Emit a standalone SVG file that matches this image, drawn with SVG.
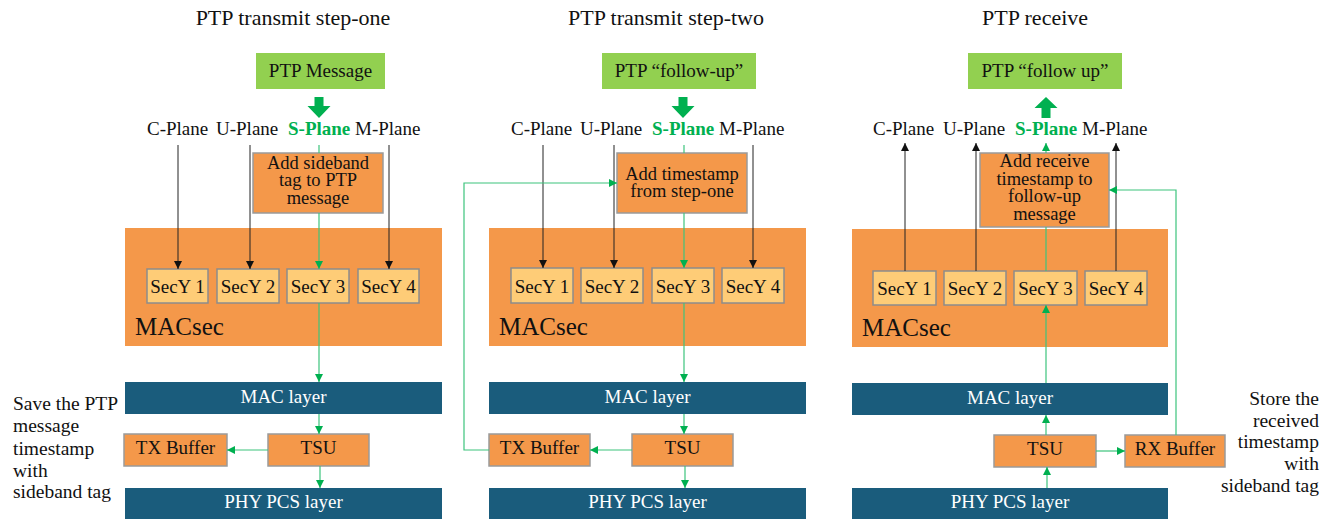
<svg xmlns="http://www.w3.org/2000/svg" width="1335" height="519" viewBox="0 0 1335 519">
  <style>
    text { font-family: "Liberation Serif", "Times New Roman", serif; fill: #111; }
    .title { font-size: 22px; text-anchor: middle; }
    .lbl { font-size: 19px; }
    .box { font-size: 18.5px; }
    .mid { text-anchor: middle; }
    .splane { fill: #00B050; font-weight: bold; }
    .band { fill: #1A5C7C; }
    .bandtxt { fill: #ffffff; font-size: 19px; text-anchor: middle; }
    .macsec { fill: #F4984A; }
    .msg { fill: #92D050; }
    .proc { fill: #F4984A; stroke: #9a9a9a; stroke-width: 1.5; }
    .secy { fill: #FECC77; stroke: #8c8c8c; stroke-width: 1.5; }
    .big { font-size: 25px; }
    .note { font-size: 19.5px; }
    .k { stroke: #222; stroke-width: 1; fill: none; }
    .g { stroke: #3CC47C; stroke-width: 1.2; fill: none; }
    .ka { marker-end: url(#ah-k); }
    .ga { marker-end: url(#ah-g); }
    .fat { fill: #00B050; }
  </style>
  <defs>
    <marker id="ah-k" viewBox="0 0 10 10" refX="10" refY="5" markerWidth="8" markerHeight="9" markerUnits="userSpaceOnUse" orient="auto">
      <path d="M0,0 L10,5 L0,10 Z" fill="#111"/>
    </marker>
    <marker id="ah-g" viewBox="0 0 10 10" refX="10" refY="5" markerWidth="8" markerHeight="9" markerUnits="userSpaceOnUse" orient="auto">
      <path d="M0,0 L10,5 L0,10 Z" fill="#00B050"/>
    </marker>
  </defs>

  <!-- ===== Panel 1: PTP transmit step-one ===== -->
  <g id="panel1">
    <text class="title" x="293" y="25">PTP transmit step-one</text>
    <g id="p1-msg">
      <rect class="msg" x="256" y="53" width="129" height="36"/>
      <text class="lbl mid" x="320.5" y="77">PTP Message</text>
    </g>
    <path id="p1-fat" class="fat" d="M314.5,97 H323.5 V106 H330.5 L319,118 L307.5,106 H314.5 Z"/>
    <g id="p1-planes" class="lbl">
      <text x="147" y="135">C-Plane</text>
      <text x="216" y="135">U-Plane</text>
      <text class="splane" x="288" y="135">S-Plane</text>
      <text x="355" y="135">M-Plane</text>
    </g>
    <g id="p1-add">
      <rect class="proc" x="253" y="153" width="130" height="60"/>
      <text class="box mid" x="318" y="168.5">Add sideband</text>
      <text class="box mid" x="318" y="186">tag to PTP</text>
      <text class="box mid" x="318" y="203.5">message</text>
    </g>
    <g id="p1-macsec">
      <rect class="macsec" x="125" y="228" width="317" height="118"/>
      <text class="big" x="135" y="335">MACsec</text>
    </g>
    <g id="p1-secy1"><rect class="secy" x="147" y="269" width="61" height="34"/><text class="lbl mid" x="177.5" y="293">SecY 1</text></g>
    <g id="p1-secy2"><rect class="secy" x="217" y="269" width="62" height="34"/><text class="lbl mid" x="248" y="293">SecY 2</text></g>
    <g id="p1-secy3"><rect class="secy" x="287" y="269" width="62" height="34"/><text class="lbl mid" x="318" y="293">SecY 3</text></g>
    <g id="p1-secy4"><rect class="secy" x="358" y="269" width="61" height="34"/><text class="lbl mid" x="388.5" y="293">SecY 4</text></g>
    <g id="p1-mac"><rect class="band" x="125" y="382" width="317" height="32"/><text class="bandtxt" x="283.5" y="403">MAC layer</text></g>
    <g id="p1-txbuf"><rect class="proc" x="124" y="434" width="103" height="32"/><text class="lbl mid" x="175.5" y="454">TX Buffer</text></g>
    <g id="p1-tsu"><rect class="proc" x="268" y="434" width="101" height="32"/><text class="lbl mid" x="318.5" y="454">TSU</text></g>
    <g id="p1-phy"><rect class="band" x="125" y="488" width="317" height="31"/><text class="bandtxt" x="283.5" y="508">PHY PCS layer</text></g>
  </g>

  <!-- ===== Panel 2: PTP transmit step-two ===== -->
  <g id="panel2">
    <text class="title" x="666" y="25">PTP transmit step-two</text>
    <g id="p2-msg">
      <rect class="msg" x="602" y="53" width="154" height="36"/>
      <text class="lbl mid" x="679" y="77">PTP “follow-up”</text>
    </g>
    <path id="p2-fat" class="fat" d="M678.5,97 H687.5 V106 H694.5 L683,118 L671.5,106 H678.5 Z"/>
    <g id="p2-planes" class="lbl">
      <text x="511" y="135">C-Plane</text>
      <text x="580" y="135">U-Plane</text>
      <text class="splane" x="652" y="135">S-Plane</text>
      <text x="719" y="135">M-Plane</text>
    </g>
    <g id="p2-add">
      <rect class="proc" x="617" y="153" width="130" height="60"/>
      <text class="box mid" x="682" y="179.5">Add timestamp</text>
      <text class="box mid" x="682" y="197">from step-one</text>
    </g>
    <g id="p2-macsec">
      <rect class="macsec" x="489" y="228" width="317" height="118"/>
      <text class="big" x="499" y="335">MACsec</text>
    </g>
    <g id="p2-secy1"><rect class="secy" x="511" y="268" width="62" height="35"/><text class="lbl mid" x="542" y="293">SecY 1</text></g>
    <g id="p2-secy2"><rect class="secy" x="581" y="268" width="62" height="35"/><text class="lbl mid" x="612" y="293">SecY 2</text></g>
    <g id="p2-secy3"><rect class="secy" x="652" y="268" width="62" height="35"/><text class="lbl mid" x="683" y="293">SecY 3</text></g>
    <g id="p2-secy4"><rect class="secy" x="722" y="268" width="62" height="35"/><text class="lbl mid" x="753" y="293">SecY 4</text></g>
    <g id="p2-mac"><rect class="band" x="489" y="382" width="317" height="32"/><text class="bandtxt" x="647.5" y="403">MAC layer</text></g>
    <g id="p2-txbuf"><rect class="proc" x="489" y="434" width="101" height="32"/><text class="lbl mid" x="539.5" y="454">TX Buffer</text></g>
    <g id="p2-tsu"><rect class="proc" x="632" y="434" width="101" height="32"/><text class="lbl mid" x="682.5" y="454">TSU</text></g>
    <g id="p2-phy"><rect class="band" x="489" y="488" width="317" height="31"/><text class="bandtxt" x="647.5" y="508">PHY PCS layer</text></g>
  </g>

  <!-- ===== Panel 3: PTP receive ===== -->
  <g id="panel3">
    <text class="title" x="1035" y="25">PTP receive</text>
    <g id="p3-msg">
      <rect class="msg" x="968" y="53" width="154" height="36"/>
      <text class="lbl mid" x="1045" y="77">PTP “follow up”</text>
    </g>
    <path id="p3-fat" class="fat" d="M1041.5,118 H1050.5 V108 H1057.5 L1046,97 L1034.5,108 H1041.5 Z"/>
    <g id="p3-planes" class="lbl">
      <text x="873" y="135">C-Plane</text>
      <text x="943" y="135">U-Plane</text>
      <text class="splane" x="1015" y="135">S-Plane</text>
      <text x="1082" y="135">M-Plane</text>
    </g>
    <g id="p3-macsec">
      <rect class="macsec" x="852" y="229" width="316" height="118"/>
      <text class="big" x="862" y="336">MACsec</text>
    </g>
    <g id="p3-add">
      <rect class="proc" x="980" y="153" width="129" height="74"/>
      <text class="box mid" x="1044.5" y="167">Add receive</text>
      <text class="box mid" x="1044.5" y="184.5">timestamp to</text>
      <text class="box mid" x="1044.5" y="202">follow-up</text>
      <text class="box mid" x="1044.5" y="219.5">message</text>
    </g>
    <g id="p3-secy1"><rect class="secy" x="873" y="271" width="63" height="34"/><text class="lbl mid" x="904.5" y="295">SecY 1</text></g>
    <g id="p3-secy2"><rect class="secy" x="944" y="271" width="62" height="34"/><text class="lbl mid" x="975" y="295">SecY 2</text></g>
    <g id="p3-secy3"><rect class="secy" x="1014" y="271" width="63" height="34"/><text class="lbl mid" x="1045.5" y="295">SecY 3</text></g>
    <g id="p3-secy4"><rect class="secy" x="1085" y="271" width="62" height="34"/><text class="lbl mid" x="1116" y="295">SecY 4</text></g>
    <g id="p3-mac"><rect class="band" x="852" y="383" width="316" height="32"/><text class="bandtxt" x="1010" y="404">MAC layer</text></g>
    <g id="p3-tsu"><rect class="proc" x="994" y="435" width="102" height="32"/><text class="lbl mid" x="1045" y="455">TSU</text></g>
    <g id="p3-rxbuf"><rect class="proc" x="1125" y="435" width="100" height="32"/><text class="lbl mid" x="1175" y="455">RX Buffer</text></g>
    <g id="p3-phy"><rect class="band" x="852" y="488" width="316" height="31"/><text class="bandtxt" x="1010" y="508">PHY PCS layer</text></g>
  </g>

  <!-- side notes -->
  <g id="note-tx" class="note">
    <text x="13" y="410">Save the PTP</text>
    <text x="13" y="432">message</text>
    <text x="13" y="455">timestamp</text>
    <text x="13" y="477">with</text>
    <text x="13" y="498">sideband tag</text>
  </g>
  <g id="note-rx" class="note" text-anchor="end">
    <text x="1319" y="405">Store the</text>
    <text x="1319" y="427">received</text>
    <text x="1319" y="448">timestamp</text>
    <text x="1319" y="470">with</text>
    <text x="1319" y="492">sideband tag</text>
  </g>

  <!-- connectors -->
  <g id="connectors">
    <!-- panel 1 -->
    <path class="k ka" d="M178,145 V269"/>
    <path class="k ka" d="M250,145 V269"/>
    <path class="g" d="M319,145 V153"/>
    <path class="g ga" d="M319,213 V269"/>
    <path class="k ka" d="M389,145 V269"/>
    <path class="g ga" d="M319,303 V382"/>
    <path class="g ga" d="M319,414 V434"/>
    <path class="g ga" d="M320,466 V488"/>
    <path class="g ga" d="M268,450 H227"/>
    <!-- panel 2 -->
    <path class="k ka" d="M543,145 V268"/>
    <path class="k ka" d="M614,145 V268"/>
    <path class="g" d="M684,145 V153"/>
    <path class="g ga" d="M684,213 V268"/>
    <path class="k ka" d="M753,145 V268"/>
    <path class="g ga" d="M684,303 V382"/>
    <path class="g ga" d="M684,414 V434"/>
    <path class="g ga" d="M685,466 V488"/>
    <path class="g ga" d="M632,450 H590"/>
    <path class="g ga" d="M489,450 H464 V183 H617"/>
    <!-- panel 3 -->
    <path class="k ka" d="M905,271 V143"/>
    <path class="k ka" d="M976,271 V143"/>
    <path class="g" d="M1046,271 V227"/>
    <path class="g ga" d="M1046,153 V143"/>
    <path class="k ka" d="M1116,271 V143"/>
    <path class="g ga" d="M1046,383 V305"/>
    <path class="g ga" d="M1046,435 V415"/>
    <path class="g ga" d="M1047,488 V467"/>
    <path class="g ga" d="M1096,451 H1125"/>
    <path class="g ga" d="M1176,435 V190 H1109"/>
  </g>
</svg>
